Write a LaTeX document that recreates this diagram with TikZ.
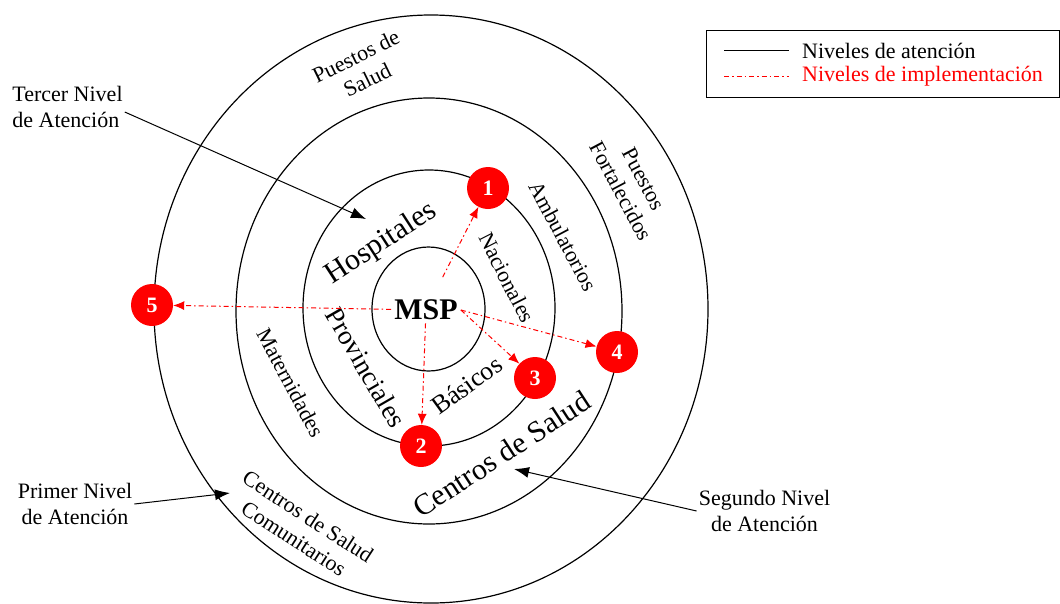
\documentclass[tikz,border=0pt]{standalone}
\usepackage{fontspec}
\setmainfont{Liberation Serif}
\usetikzlibrary{arrows.meta,positioning}
\tikzset{
	level/.style={draw=black, line width=1.2pt},
	stage/.style={
		circle,
		fill=red,
		text=white,
		minimum size=42pt,
		inner sep=0pt,
		font=\fontsize{22}{22}\selectfont\bfseries,
	},
	impl/.style={red, line width=1pt, dash pattern=on 5pt off 3pt on 1.5pt off 3pt, -{Latex[length=11pt,width=9pt]}},
	pointer/.style={draw=black, line width=1pt, -{Latex[length=15pt,width=11pt]}},
	ring/.style={font=\fontsize{22}{26}\selectfont, align=center, inner sep=1pt},
	ringbig/.style={font=\fontsize{30}{34}\selectfont, inner sep=1pt},
	note/.style={font=\fontsize{22}{26}\selectfont, align=center, inner sep=2pt},
}

\begin{document}
\begin{tikzpicture}[x=1pt, y=-1pt]
\useasboundingbox (0,0) rectangle (1060,603);

% niveles de atencion
\draw[level] (431,309) ellipse [x radius=277pt, y radius=294pt];
\draw[level] (429,311) ellipse [x radius=193pt, y radius=213pt];
\draw[level] (429,308) ellipse [x radius=126pt, y radius=138pt];
\draw[level] (428.5,309) ellipse [x radius=56.5pt, y radius=62pt];

% textos de los anillos
\node	(msp)		[font=\fontsize{30}{30}\selectfont\bfseries, inner sep=3pt]	at (426,310)	{MSP};
\node	(hosp)		[ringbig, rotate=33]	at (381.5,243.5)	{Hospitales};
\node	(nac)		[ring, rotate=-63]	at (507,277.5)	{Nacionales};
\node	(prov)		[ringbig, font=\fontsize{27}{30}\selectfont, rotate=-60]	at (366,367.5)	{Provinciales};
\node	(bas)		[ring, font=\fontsize{26}{30}\selectfont, rotate=36]	at (466.5,385)	{Básicos};
\node	(cds)		[ringbig, rotate=33]	at (501.5,454)	{Centros de Salud};
\node	(amb)		[ring, rotate=-62]	at (562.8,236)	{Ambulatorios};
\node	(mat)		[ring, rotate=-62]	at (290.5,382.5)	{Maternidades};
\node	(pds)		[ring, rotate=26]	at (361.6,68)	{Puestos de\\Salud};
\node	(pfort)		[ring, rotate=-62]	at (632,185)	{Puestos\\Fortalecidos};
\node	(cdsc)		[ring, rotate=-33]	at (301,527.5)	{Centros de Salud\\Comunitarios};

% niveles de implementacion
\node	(s1)	[stage]	at (488,188)	{1};
\node	(s2)	[stage]	at (421,446)	{2};
\node	(s3)	[stage]	at (535,378)	{3};
\node	(s4)	[stage]	at (617,352)	{4};
\node	(s5)	[stage]	at (152,305)	{5};

\path[impl] (msp) edge[shorten <=22pt] (s1);
\path[impl] (msp) edge (s2);
\path[impl] (msp.east) edge (s3);
\path[impl] (msp.east) edge (s4);
\path[impl] (msp) edge (s5);

% etiquetas de nivel
\node	(tercer)	[note, align=left]	at (67.5,107)	{Tercer Nivel\\de Atención};
\node	(primer)	[note]	at (75,504)	{Primer Nivel\\de Atención};
\node	(segundo)	[note]	at (764.5,511)	{Segundo Nivel\\de Atención};
\coordinate (hospTip) at (366,219);
\coordinate (comTip) at (230,493);
\coordinate (centroTip) at (514,469);

\draw[pointer] (tercer.-5) -- (hospTip);
\draw[pointer] (primer.east) -- (comTip);
\draw[pointer] (segundo.west) -- (centroTip);

% leyenda
\node	(legend)	[draw, line width=1pt, minimum width=353pt, minimum height=67pt, inner sep=0pt]	at (882.5,63.8)	{};
\node	(attn)		[anchor=west, inner sep=0pt, font=\fontsize{22}{26}\selectfont]	at (802,51)	{Niveles de atención};
\node	(implem)	[anchor=west, inner sep=0pt, font=\fontsize{22}{26}\selectfont, text=red]	at (802,76)	{Niveles de implementación};
\draw[level] (724,50.7) -- (788.6,50.7);
\draw[impl, -] (724,76) -- (788.6,76);

\end{tikzpicture}
\end{document}
